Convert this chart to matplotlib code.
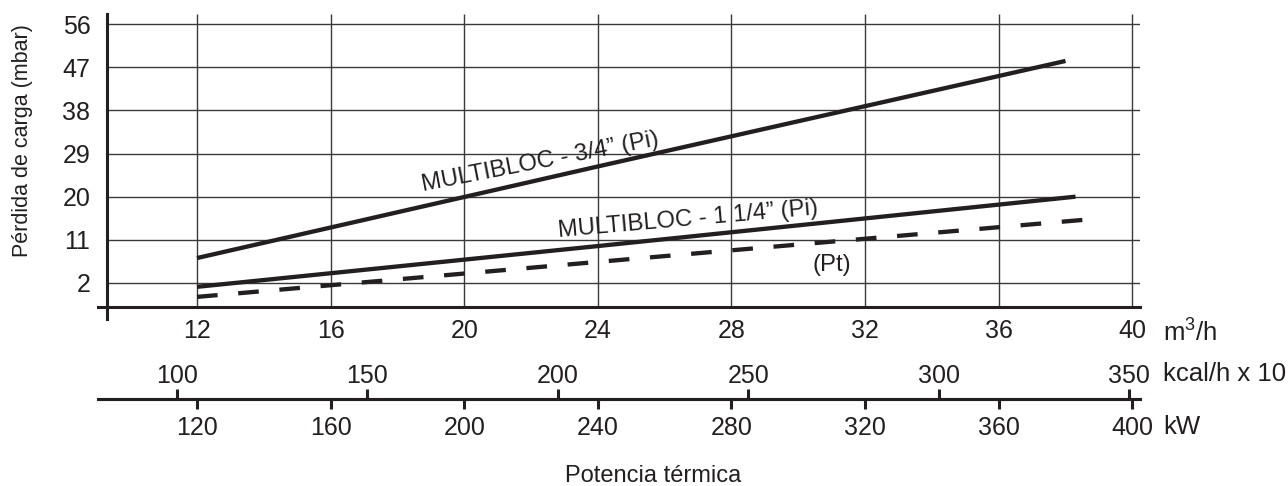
import matplotlib.pyplot as plt

plt.rcParams['font.family'] = ['Liberation Sans', 'DejaVu Sans']
plt.rcParams['mathtext.fontset'] = 'custom'
plt.rcParams['mathtext.rm'] = 'Liberation Sans'

tinta = '#231f20'

# ejes
caudal_ticks = [12, 16, 20, 24, 28, 32, 36, 40]          # m3/h
perdida_ticks = [2, 11, 20, 29, 38, 47, 56]              # mbar
kw_ticks = [120, 160, 200, 240, 280, 320, 360, 400]      # kW
kcal_ticks = [100, 150, 200, 250, 300, 350]              # kcal/h x 10^3

# curvas
x_34 = [12, 24, 38.0]
y_34 = [7.2, 26.3, 48.3]
x_114 = [12, 24, 38.3]
y_114 = [1.2, 9.7, 20.0]
x_pt = [12, 24, 38.6]
y_pt = [-0.9, 6.4, 15.2]

kw_por_m3h = 10.0
kcal_por_m3h = 8.77

x0, x1 = 9.036, 40.23
y0, y1 = -5.51, 58.09
x_eje = 9.305
y_eje = -3.0

fig = plt.figure(figsize=(12.88, 4.86), dpi=100)
ax = fig.add_axes([98/1288, 1 - 319/486, 1042/1288, 305/486])
ax.set_xlim(x0, x1)
ax.set_ylim(y0, y1)

# rejilla
ax.hlines(perdida_ticks, x_eje, x1, color='#3a3a3a', lw=1.0, zorder=1)
ax.vlines(caudal_ticks, y_eje, y1, color='#3a3a3a', lw=1.0, zorder=1)

# curvas
ax.plot(x_34, y_34, color=tinta, lw=3.1, solid_capstyle='butt', zorder=3)
ax.plot(x_114, y_114, color=tinta, lw=3.1, solid_capstyle='butt', zorder=3)
ax.plot(x_pt, y_pt, color=tinta, lw=3.1, dashes=(4.8, 4.8), zorder=3)

ax.text(22.27, 27.1, 'MULTIBLOC - 3/4\u201d (Pi)', fontsize=17.2, color=tinta,
        rotation=11, rotation_mode='anchor', ha='center', va='center')
ax.text(26.7, 15.3, 'MULTIBLOC - 1 1/4\u201d (Pi)', fontsize=17.2, color=tinta,
        rotation=5, rotation_mode='anchor', ha='center', va='center')
ax.text(31.0, 5.75, '(Pt)', fontsize=17.2, color=tinta, ha='center', va='center')

# espinas
for s in ['top', 'right']:
    ax.spines[s].set_visible(False)
ax.spines['left'].set_position(('data', x_eje))
ax.spines['bottom'].set_position(('data', y_eje))
for s in ['left', 'bottom']:
    ax.spines[s].set_linewidth(2.2)
    ax.spines[s].set_color(tinta)

ax.set_xticks(caudal_ticks)
ax.set_yticks(perdida_ticks)
ax.tick_params(axis='x', length=0, pad=9, labelsize=18, labelcolor=tinta)
ax.tick_params(axis='y', length=0, pad=12, labelsize=18, labelcolor=tinta)

# ejes secundarios: kW abajo, kcal/h arriba
loc = -(399 - 319) / 305
sec_kw = ax.secondary_xaxis(loc, functions=(lambda x: x * kw_por_m3h,
                                            lambda x: x / kw_por_m3h))
sec_kcal = ax.secondary_xaxis(loc, functions=(lambda x: x * kcal_por_m3h,
                                              lambda x: x / kcal_por_m3h))
sec_kcal.set_alignment('top')
sec_kw.set_xticks(kw_ticks)
sec_kcal.set_xticks(kcal_ticks)
sec_kw.tick_params(length=7.2, width=2.2, pad=5, labelsize=18,
                   color=tinta, labelcolor=tinta)
sec_kcal.tick_params(length=7.2, width=2.2, pad=1, labelsize=18,
                     color=tinta, labelcolor=tinta)
for sec in [sec_kw, sec_kcal]:
    for s in sec.spines.values():
        s.set_linewidth(2.2)
        s.set_color(tinta)

# textos
fig.text(1163/1288, 1 - 332/486, 'm$^3$/h', fontsize=18.5, color=tinta,
         ha='left', va='center')
fig.text(1163/1288, 1 - 374/486, 'kcal/h x 10', fontsize=18.5, color=tinta,
         ha='left', va='center')
fig.text(1163/1288, 1 - 427/486, 'kW', fontsize=18.5, color=tinta,
         ha='left', va='center')
fig.text(23/1288, 1 - 141/486, 'Pérdida de carga (mbar)', fontsize=15.5,
         color=tinta, rotation=90, ha='center', va='center')
fig.text(653/1288, 1 - 476/486, 'Potencia térmica', fontsize=17,
         color=tinta, ha='center', va='center')

fig.savefig('out.png', dpi=100)
